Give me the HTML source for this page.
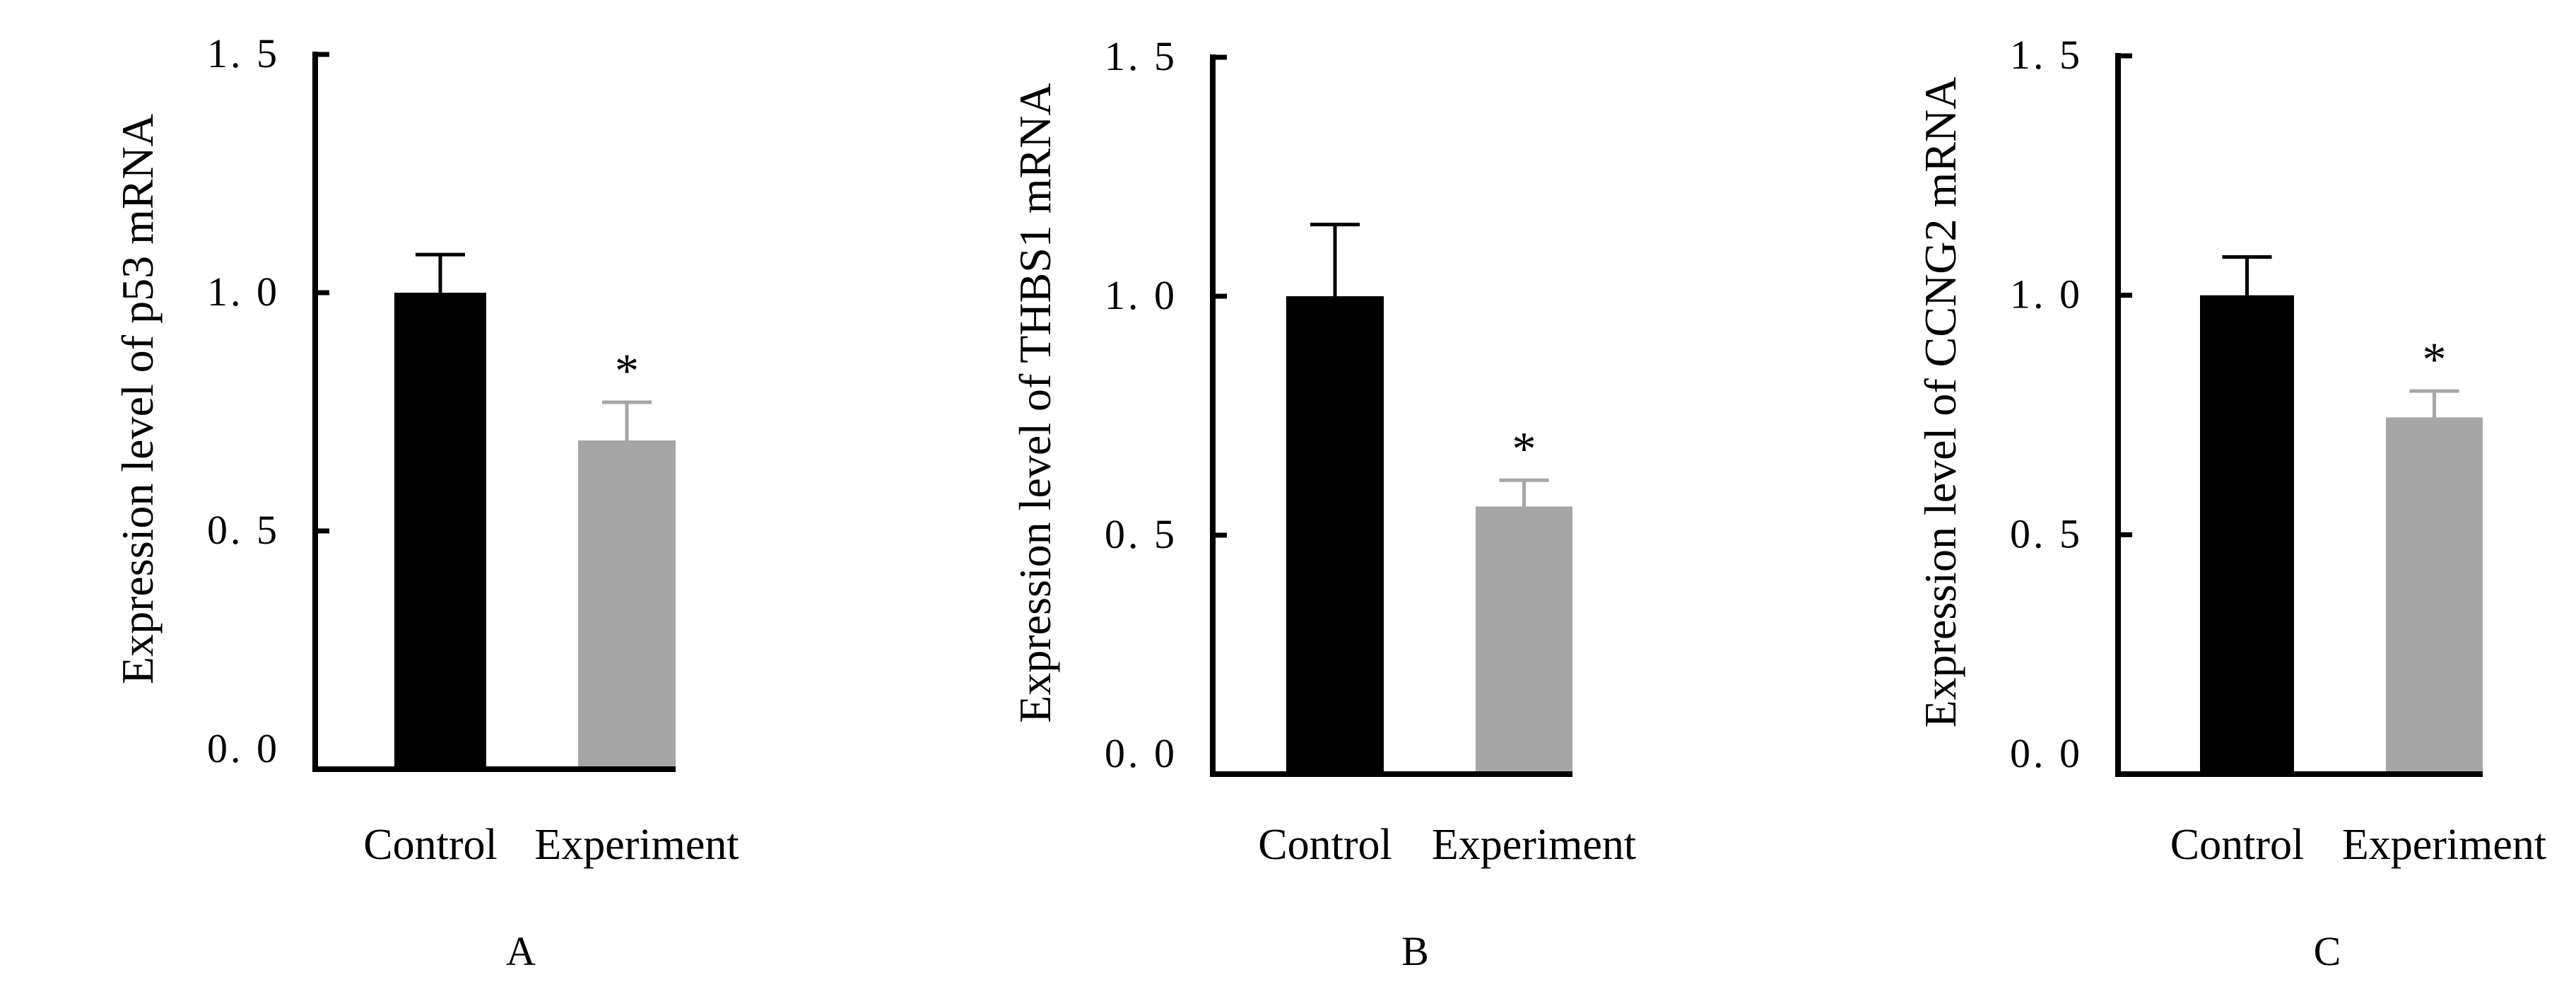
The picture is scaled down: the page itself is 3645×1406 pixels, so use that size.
<!DOCTYPE html>
<html><head><meta charset="utf-8"><style>
html,body{margin:0;padding:0;background:#fff}
svg{display:block}
text{font-family:"Liberation Serif","Noto Serif CJK SC",serif;fill:#000}
</style></head><body>
<svg id="chart" width="3645" height="1406" viewBox="0 0 3645 1406" xmlns="http://www.w3.org/2000/svg"></svg>
<script>
const panelLetters = ["A","B","C"];
const yTitles = ["Expression level of p53 mRNA","Expression level of THBS1 mRNA","Expression level of CCNG2 mRNA"];
const categories = ["Control","Experiment"];
const controlValues = [1.0, 1.0, 1.0];
const controlErrors = [0.08, 0.15, 0.08];
const experimentValues = [0.69, 0.56, 0.745];
const experimentErrors = [0.08, 0.055, 0.055];
const tickValues = [0, 0.5, 1.0, 1.5];
const tickLabels = ["0. 0","0. 5","1. 0","1. 5"];

const layout = [
  {ax:446, top:77, zero:1088, b1:[558,688], b2:[818,956]},
  {ax:1716, top:81, zero:1095, b1:[1820,1958], b2:[2088,2225]},
  {ax:2997, top:79, zero:1095, b1:[3113,3246], b2:[3376,3513]}
];
const svg = document.getElementById('chart');
const NS = 'http://www.w3.org/2000/svg';
function mk(tag, attrs, parent){const e=document.createElementNS(NS,tag);for(const k in attrs)e.setAttribute(k,attrs[k]);(parent||svg).appendChild(e);return e;}

layout.forEach((L,i)=>{
  const g = mk('g',{});
  
  
  const y = v => L.zero - (v/1.5)*(L.zero-L.top);
  const bars = [
    {x:L.b1, v:controlValues[i], e:controlErrors[i], fill:'#000', ec:'#000', name:'bar-control', lx:-14},
    {x:L.b2, v:experimentValues[i], e:experimentErrors[i], fill:'#a6a6a6', ec:'#a6a6a6', name:'bar-experiment', lx:14}
  ];
  bars.forEach((b,j)=>{
    const cx=(b.x[0]+b.x[1])/2;
    const eb = mk('line',{x1:cx,x2:cx,y1:y(b.v),y2:y(b.v+b.e),stroke:b.ec,'stroke-width':5},g);
    
    
    const cap = mk('line',{x1:cx-35,x2:cx+35,y1:y(b.v+b.e),y2:y(b.v+b.e),stroke:b.ec,'stroke-width':5},g);
    
    
    const r = mk('rect',{x:b.x[0],y:y(b.v),width:b.x[1]-b.x[0],height:L.zero-y(b.v),fill:b.fill},g);
    
    
    const lab = mk('text',{x:cx+b.lx,y:1215,'font-size':62,'text-anchor':'middle'},g);
    lab.textContent = categories[j];
    
    
  });
  const cx2=(L.b2[0]+L.b2[1])/2;
  const st = mk('text',{x:cx2,y:y(experimentValues[i]+experimentErrors[i])-22,'font-size':68,'text-anchor':'middle'},g);
  st.textContent='*';
  
  
  const ya = mk('line',{x1:L.ax,x2:L.ax,y1:L.top-4,y2:L.zero+4,stroke:'#000','stroke-width':8},g);
  
  
  const xa = mk('line',{x1:L.ax-4,x2:L.b2[1],y1:L.zero,y2:L.zero,stroke:'#000','stroke-width':8},g);
  
  
  tickValues.forEach((t,k)=>{
    if(t>0){
      const tk = mk('line',{x1:L.ax,x2:L.ax+20,y1:y(t),y2:y(t),stroke:'#000','stroke-width':7},g);
      
      
    }
    const tl = mk('text',{x:L.ax-50,y:y(t)+(t===0?-10:18),'font-size':58,'text-anchor':'end','letter-spacing':4},g);
    tl.textContent=tickLabels[k];
    
    
  });
  const tx=L.ax-230, ty=(L.top+L.zero)/2-18;
  const yt = mk('text',{x:0,y:0,'font-size':64,'text-anchor':'middle',transform:`translate(${tx},${ty}) rotate(-90)`},g);
  yt.textContent=yTitles[i];
  
  
  const pl = mk('text',{x:(L.b1[0]+L.b2[1])/2-20,y:1365,'font-size':58,'text-anchor':'middle'},g);
  pl.textContent=panelLetters[i];
  
  
});
</script>
</body></html>
